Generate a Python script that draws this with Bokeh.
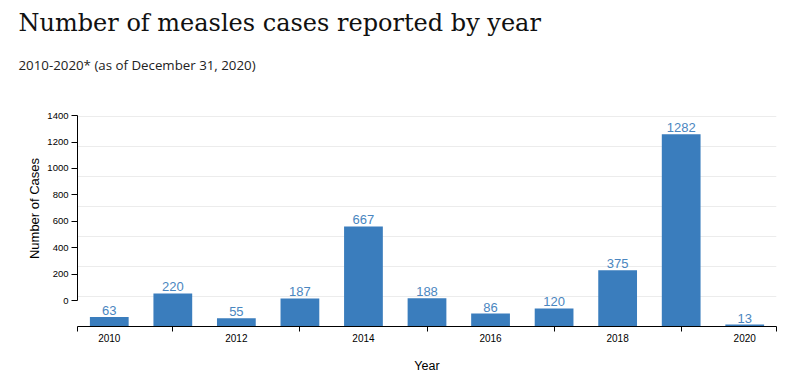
from bokeh.plotting import figure
from bokeh.models import Range1d, LinearAxis, FixedTicker, Title
from bokeh.core.properties import value
from bokeh.embed import file_html
from bokeh.resources import INLINE

years = [2010, 2011, 2012, 2013, 2014, 2015, 2016, 2017, 2018, 2019, 2020]
cases = [63, 220, 55, 187, 667, 188, 86, 120, 375, 1282, 13]
label_years = [2010, 2012, 2014, 2016, 2018, 2020]
y_ticks = [0, 200, 400, 600, 800, 1000, 1200, 1400]
title_text = "Number of measles cases reported by year"
subtitle_text = "2010-2020* (as of December 31, 2020)"
x_label = "Year"
y_label = "Number of Cases"

BAR = "#3a7dbd"
TXT = "#4a86c0"

p = figure(frame_width=699, frame_height=236, output_backend="svg", toolbar_location=None,
           x_range=Range1d(2009.5, 2020.5), y_range=Range1d(0, 1573.3),
           y_axis_location=None, title=None,
           min_border_left=77, min_border_right=20, min_border_top=90, min_border_bottom=52)
p.outline_line_color = None
p.background_fill_color = "white"
p.border_fill_color = "white"

# subtitle first (closest to plot), then main title
sub = Title(text=subtitle_text, align="left", offset=-59, text_font="Open Sans",
            text_font_size="13.3px", text_font_style="normal", text_color="#222222", standoff=34)
p.add_layout(sub, "above")
ttl = Title(text=title_text, align="left", offset=-59, text_font="DejaVu Serif",
            text_font_size="24px", text_font_style="normal", text_color="#111111", standoff=0)
p.add_layout(ttl, "above")

# grid
p.xgrid.visible = False
p.ygrid.ticker = FixedTicker(ticks=y_ticks[1:])
p.ygrid.grid_line_color = "#ececec"
p.ygrid.grid_line_width = 1

# displayed y axis
p.extra_y_ranges = {"disp": Range1d(-192.5, 1588.7)}
ay = LinearAxis(y_range_name="disp", ticker=FixedTicker(ticks=y_ticks), bounds=(0, 1400))
ay.axis_label = y_label
ay.axis_label_text_font = "Liberation Sans"
ay.axis_label_text_font_size = "13px"
ay.axis_label_text_font_style = "normal"
ay.axis_label_text_color = "#000000"
ay.axis_label_standoff = 2
ay.major_label_text_font = "Liberation Sans"
ay.major_label_text_font_size = "9.5px"
ay.major_label_text_color = "#000000"
ay.major_label_standoff = 3
ay.major_tick_out = 6
ay.major_tick_in = 0
ay.minor_tick_out = 0
ay.minor_tick_in = 0
ay.axis_line_color = "#000000"
ay.major_tick_line_color = "#000000"
p.add_layout(ay, "left")

# x axis
minor = [2009.5] + [y for y in years if y % 2 == 1] + [2020.5]
ax = p.xaxis[0]
ax.ticker = FixedTicker(ticks=label_years, minor_ticks=minor)
ax.axis_label = x_label
ax.axis_label_text_font = "Liberation Sans"
ax.axis_label_text_font_size = "12.5px"
ax.axis_label_text_font_style = "normal"
ax.axis_label_text_color = "#000000"
ax.axis_label_standoff = 14
ax.major_label_text_font = "Liberation Sans"
ax.major_label_text_font_size = "10px"
ax.major_label_text_color = "#000000"
ax.major_label_standoff = 2
ax.major_tick_out = 0
ax.major_tick_in = 0
ax.minor_tick_out = 5
ax.minor_tick_in = 0
ax.minor_tick_line_color = "#000000"
ax.axis_line_color = "#000000"

p.vbar(x=years, top=cases, bottom=0, width=0.61, fill_color=BAR, line_color=None)
p.text(x=years, y=cases, text=[str(c) for c in cases], y_offset=-2,
       text_align="center", text_baseline="bottom", text_font=value("Liberation Sans"),
       text_font_size="13px", text_color=TXT)

open("out.html", "w").write(file_html(p, INLINE))
